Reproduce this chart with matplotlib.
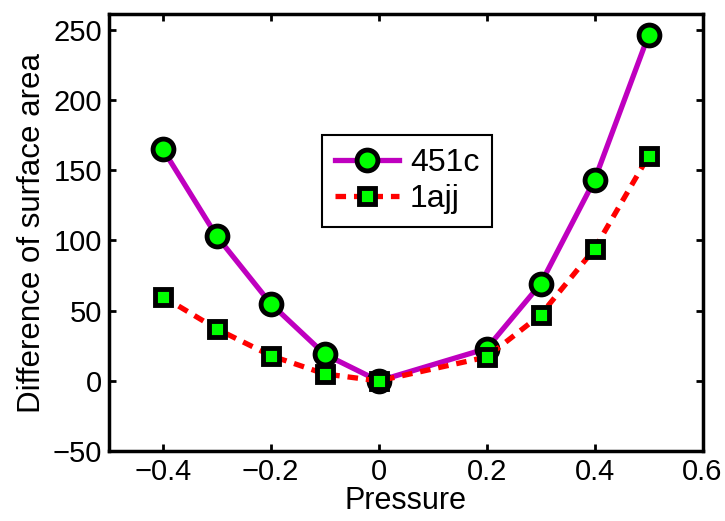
import matplotlib
matplotlib.use("Agg")
import matplotlib.pyplot as plt

pressure = [-0.4, -0.3, -0.2, -0.1, 0.0, 0.2, 0.3, 0.4, 0.5]
s451c = [165, 103, 55, 19, 0, 23, 69, 143, 246]
s1ajj = [60, 37, 18, 5, 0, 17, 47, 94, 160]
xticks = [-0.4, -0.2, 0, 0.2, 0.4, 0.6]
xticklabels = ["\u22120.4", "\u22120.2", "0", "0.2", "0.4", "0.6"]
yticks = [-50, 0, 50, 100, 150, 200, 250]
yticklabels = ["\u221250", "0", "50", "100", "150", "200", "250"]

plt.rcParams['font.family'] = ['Liberation Sans', 'DejaVu Sans']
fig = plt.figure(figsize=(7.25, 5.21), dpi=100)
ax = fig.add_axes([0.150, 0.134, 0.819, 0.839])

ax.plot(pressure, s451c, color=(0.75, 0, 0.75), lw=3.8, marker='o', ms=15,
        mfc=(0, 1, 0), mec='black', mew=3.5, label='451c', zorder=3)
ax.plot(pressure, s1ajj, color='red', lw=3.8, ls=(0, (2, 1.5)), marker='s', ms=11,
        mfc=(0, 1, 0), mec='black', mew=3.5, label='1ajj', zorder=4)

ax.set_xlim(-0.5, 0.6)
ax.set_ylim(-50, 261)
ax.set_xticks(xticks)
ax.set_xticklabels(xticklabels)
ax.set_yticks(yticks)
ax.set_yticklabels(yticklabels)
ax.tick_params(direction='in', top=True, right=True, labelsize=21, width=2, length=5, pad=5)
for sp in ax.spines.values():
    sp.set_linewidth(2.5)
ax.set_xlabel('Pressure', fontsize=22, labelpad=0)
ax.set_ylabel('Difference of surface area', fontsize=22.5, labelpad=4)

leg = ax.legend(loc='upper left', bbox_to_anchor=(0.359, 0.723), fontsize=23,
                fancybox=False, framealpha=1, edgecolor='black',
                handlelength=2.0, borderpad=0.4, labelspacing=0.2,
                handletextpad=0.35, borderaxespad=0)
leg.get_frame().set_linewidth(1.5)

fig.savefig('out.png', dpi=100)
